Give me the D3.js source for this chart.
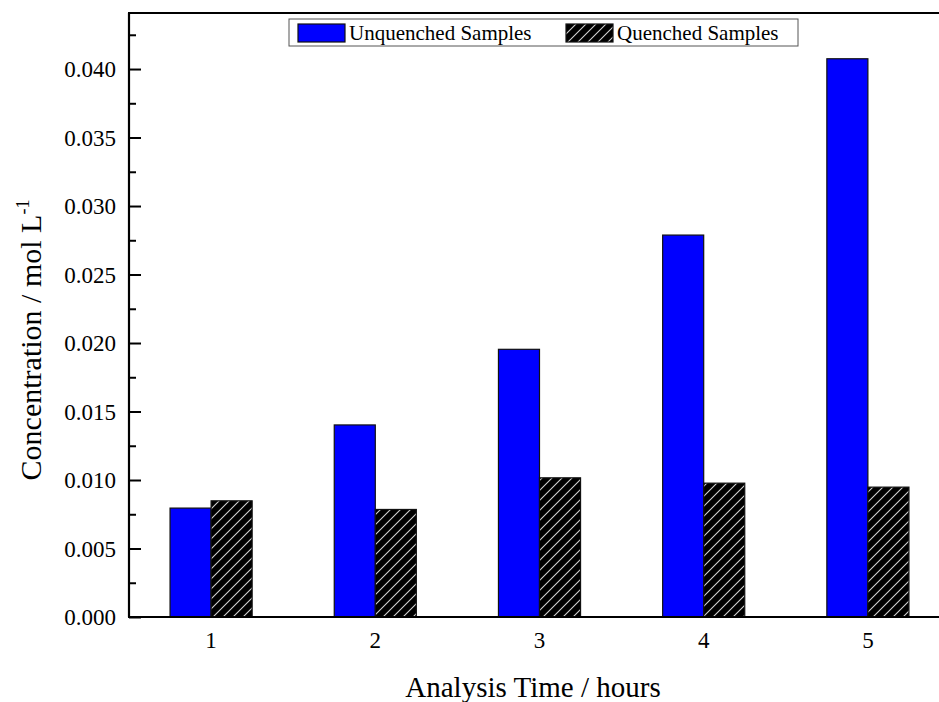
<!DOCTYPE html>
<html>
<head>
<meta charset="utf-8">
<title>Concentration vs Analysis Time</title>
<script src="https://d3js.org/d3.v7.min.js"></script>
<style>
  body { margin: 0; background: #fff; }
  svg text { font-family: "Liberation Serif", "Times New Roman", serif; fill: #000; }
</style>
</head>
<body>
<div id="chart"></div>
<script>
// data
var hours = [1, 2, 3, 4, 5];
var unquenched = [0.00795, 0.01402, 0.01954, 0.02788, 0.04075];
var quenched = [0.00848, 0.00785, 0.01016, 0.00977, 0.00948];
var yTicks = [0, 0.005, 0.010, 0.015, 0.020, 0.025, 0.030, 0.035, 0.040];
var seriesNames = ["Unquenched Samples", "Quenched Samples"];

var W = 939, H = 702;
var plotL = 129, plotT = 13, plotR = 950, plotB = 617;

var svg = d3.select("#chart").append("svg")
    .attr("width", W).attr("height", H);

var defs = svg.append("defs");
var pat = defs.append("pattern")
    .attr("id", "hatch")
    .attr("patternUnits", "userSpaceOnUse")
    .attr("width", 10).attr("height", 10);
pat.append("rect").attr("width", 10).attr("height", 10).attr("fill", "#000");
pat.append("path")
    .attr("d", "M-2,12 L12,-2 M-7,7 L7,-7 M3,17 L17,3")
    .attr("stroke", "#d0d0d0").attr("stroke-width", 1.1);

var x = d3.scaleLinear().domain([0.5, 5.5]).range([plotL, plotR]);
var y = d3.scaleLinear().domain([0, 0.04409]).range([plotB, plotT]);
var bw = x(0.25) - x(0);

// y axis, inward ticks
var yAxis = d3.axisRight(y).tickValues(yTicks).tickSize(12).tickFormat("");
var yMinor = d3.axisRight(y)
    .tickValues(d3.range(0.0025, 0.044, 0.005)).tickSize(7).tickFormat("");
svg.append("g").attr("transform", "translate(" + plotL + ",0)").call(yAxis)
    .call(function(g) { g.select(".domain").remove(); })
    .selectAll("line").attr("stroke-width", 2);
svg.append("g").attr("transform", "translate(" + plotL + ",0)").call(yMinor)
    .call(function(g) { g.select(".domain").remove(); })
    .selectAll("line").attr("stroke-width", 2);

// y tick labels
svg.append("g").selectAll("text").data(yTicks).enter().append("text")
    .attr("x", plotL - 13).attr("y", function(d) { return y(d); })
    .attr("dy", "0.35em").attr("text-anchor", "end")
    .style("font-size", "23px")
    .text(function(d) { return d3.format(".3f")(d); });

// x axis inward ticks (behind bars)
svg.append("g").selectAll("line").data(hours).enter().append("line")
    .attr("x1", function(d) { return x(d); }).attr("x2", function(d) { return x(d); })
    .attr("y1", plotB).attr("y2", plotB - 12)
    .attr("stroke", "#000").attr("stroke-width", 2);

// bars
svg.append("g").selectAll("rect").data(unquenched).enter().append("rect")
    .attr("x", function(d, i) { return x(hours[i]) - bw; })
    .attr("y", function(d) { return y(d); })
    .attr("width", bw)
    .attr("height", function(d) { return plotB - y(d); })
    .attr("fill", "#0000ff").attr("stroke", "#111").attr("stroke-width", 1.2);

svg.append("g").selectAll("rect").data(quenched).enter().append("rect")
    .attr("x", function(d, i) { return x(hours[i]); })
    .attr("y", function(d) { return y(d); })
    .attr("width", bw)
    .attr("height", function(d) { return plotB - y(d); })
    .attr("fill", "url(#hatch)").attr("stroke", "#111").attr("stroke-width", 1.2);

// x tick labels
svg.append("g").selectAll("text").data(hours).enter().append("text")
    .attr("x", function(d) { return x(d); }).attr("y", 648)
    .attr("text-anchor", "middle").style("font-size", "23px")
    .text(function(d) { return d; });

// frame lines
svg.append("line").attr("x1", plotL).attr("x2", plotL).attr("y1", plotT).attr("y2", plotB)
    .attr("stroke", "#000").attr("stroke-width", 2.2);
svg.append("line").attr("x1", plotL - 1).attr("x2", W).attr("y1", plotB).attr("y2", plotB)
    .attr("stroke", "#000").attr("stroke-width", 2.2);
svg.append("line").attr("x1", plotL - 1).attr("x2", W).attr("y1", plotT).attr("y2", plotT)
    .attr("stroke", "#000").attr("stroke-width", 2.2);

// axis titles
svg.append("text").attr("x", 533).attr("y", 697)
    .attr("text-anchor", "middle").style("font-size", "29px")
    .text("Analysis Time / hours");

var yt = svg.append("text")
    .attr("transform", "translate(41,340) rotate(-90)")
    .attr("text-anchor", "middle").style("font-size", "30px");
yt.append("tspan").text("Concentration / mol L");
yt.append("tspan").attr("dy", -12).style("font-size", "18px").text("-1");

// legend
var lg = svg.append("g");
lg.append("rect").attr("x", 289).attr("y", 19).attr("width", 509).attr("height", 27)
    .attr("fill", "#fff").attr("stroke", "#555").attr("stroke-width", 1);
lg.append("rect").attr("x", 298).attr("y", 24).attr("width", 47).attr("height", 18)
    .attr("fill", "#0000ff").attr("stroke", "#111").attr("stroke-width", 1.2);
lg.append("text").attr("x", 349).attr("y", 40).style("font-size", "21px").text(seriesNames[0]);
lg.append("rect").attr("x", 566).attr("y", 24).attr("width", 47).attr("height", 18)
    .attr("fill", "url(#hatch)").attr("stroke", "#111").attr("stroke-width", 1.2);
lg.append("text").attr("x", 617).attr("y", 40).style("font-size", "21px").text(seriesNames[1]);
</script>
</body>
</html>
